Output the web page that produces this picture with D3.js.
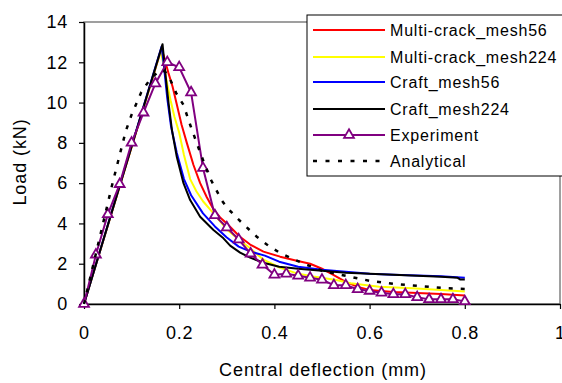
<!DOCTYPE html>
<html><head><meta charset="utf-8">
<script src="https://cdn.jsdelivr.net/npm/d3@7"></script>
<style>
html,body{margin:0;padding:0;background:#fff;}
text{font-family:Arial,"Liberation Sans",sans-serif;fill:#000;}
</style></head>
<body><svg id="c" width="562" height="383"></svg>
<script>
// ---- data ----
const xTicks = [0, 0.2, 0.4, 0.6, 0.8, 1];
const yTicks = [0, 2, 4, 6, 8, 10, 12, 14];
const seriesNames = ["Multi-crack_mesh56", "Multi-crack_mesh224", "Craft_mesh56", "Craft_mesh224", "Experiment", "Analytical"];

const multi56X = [0, 0.163, 0.17, 0.177, 0.186, 0.195, 0.205, 0.216, 0.23, 0.244, 0.258, 0.272, 0.286, 0.3, 0.327, 0.349, 0.377, 0.412, 0.447, 0.475, 0.5, 0.52, 0.55, 0.575, 0.6, 0.65, 0.7, 0.75, 0.8];
const multi56Y = [0, 12.7, 12.1, 11.5, 10.8, 9.9, 8.9, 8.0, 6.9, 6.0, 5.3, 4.7, 4.3, 4.0, 3.35, 2.95, 2.6, 2.35, 2.15, 2.0, 1.75, 1.5, 1.1, 0.85, 0.7, 0.6, 0.55, 0.5, 0.42];

const multi224X = [0, 0.161, 0.168, 0.175, 0.182, 0.19, 0.2, 0.21, 0.223, 0.236, 0.25, 0.272, 0.3, 0.325, 0.349, 0.377, 0.412, 0.447, 0.482, 0.53, 0.56, 0.62, 0.69, 0.75, 0.8];
const multi224Y = [0, 12.55, 11.8, 10.9, 10.1, 9.3, 8.5, 7.4, 6.2, 5.6, 5.1, 4.5, 3.7, 3.2, 2.77, 2.2, 1.8, 1.52, 1.36, 1.19, 1.03, 0.86, 0.78, 0.7, 0.62];

const craft56X = [0, 0.163, 0.168, 0.175, 0.183, 0.195, 0.21, 0.225, 0.25, 0.275, 0.3, 0.325, 0.35, 0.38, 0.41, 0.45, 0.5, 0.55, 0.6, 0.65, 0.7, 0.75, 0.8];
const craft56Y = [0, 12.78, 11.8, 10.2, 8.8, 7.5, 6.2, 5.4, 4.5, 3.85, 3.3, 2.85, 2.6, 2.4, 2.1, 1.85, 1.7, 1.6, 1.5, 1.45, 1.42, 1.38, 1.3];

const craft224X = [0, 0.165, 0.172, 0.178, 0.185, 0.195, 0.209, 0.223, 0.244, 0.272, 0.293, 0.307, 0.328, 0.349, 0.377, 0.41, 0.45, 0.5, 0.55, 0.6, 0.65, 0.7, 0.75, 0.785, 0.79, 0.8];
const craft224Y = [0, 12.9, 11.2, 9.9, 8.6, 7.3, 6.0, 5.16, 4.33, 3.67, 3.26, 2.9, 2.55, 2.3, 2.05, 1.85, 1.75, 1.65, 1.55, 1.5, 1.45, 1.4, 1.35, 1.3, 1.22, 1.22];

const expX = [0, 0.025, 0.05, 0.075, 0.1, 0.125, 0.15, 0.175, 0.2, 0.225, 0.25, 0.275, 0.3, 0.325, 0.35, 0.375, 0.4, 0.425, 0.45, 0.475, 0.5, 0.525, 0.55, 0.575, 0.6, 0.625, 0.65, 0.675, 0.7, 0.725, 0.75, 0.775, 0.8];
const expY = [0, 2.45, 4.45, 5.95, 8.0, 9.5, 10.95, 12.0, 11.75, 10.5, 6.75, 4.4, 3.8, 3.2, 2.5, 1.95, 1.45, 1.5, 1.4, 1.3, 1.2, 0.93, 0.93, 0.73, 0.65, 0.56, 0.48, 0.48, 0.33, 0.23, 0.23, 0.23, 0.13];

const analX = [0, 0.03, 0.06, 0.075, 0.088, 0.1, 0.12, 0.14, 0.16, 0.17, 0.18, 0.194, 0.209, 0.223, 0.237, 0.25, 0.265, 0.289, 0.3, 0.32, 0.342, 0.363, 0.387, 0.411, 0.436, 0.46, 0.5, 0.55, 0.6, 0.65, 0.7, 0.75, 0.8];
const analY = [0, 3.0, 6.0, 7.4, 8.6, 9.4, 10.5, 11.2, 11.6, 11.55, 11.2, 10.46, 9.88, 8.9, 7.98, 7.15, 6.24, 5.16, 4.8, 4.3, 3.8, 3.34, 2.9, 2.55, 2.27, 2.02, 1.65, 1.4, 1.15, 1.0, 0.9, 0.8, 0.75];

// ---- chart ----
const svg = d3.select("#c");
const x = d3.scaleLinear().domain([0, 1]).range([84, 560]);
const y = d3.scaleLinear().domain([0, 14]).range([304, 22]);

// plot area border
svg.append("rect").attr("x", 84).attr("y", 22).attr("width", 476).attr("height", 282)
  .attr("fill", "#fff").attr("stroke", "#808080").attr("stroke-width", 1.5);

const xAxis = d3.axisBottom(x).tickValues(xTicks).tickSize(5).tickSizeOuter(0).tickPadding(17)
  .tickFormat(d => String(d));
const yAxis = d3.axisLeft(y).tickValues(yTicks).tickSize(5).tickSizeOuter(0).tickPadding(11)
  .tickFormat(d => String(d));

const gx = svg.append("g").attr("transform", "translate(0,304)").call(xAxis);
const gy = svg.append("g").attr("transform", "translate(84,0)").call(yAxis);
[gx, gy].forEach(g => {
  g.selectAll("path.domain").attr("stroke", "#000").attr("stroke-width", 1.5);
  g.selectAll(".tick line").attr("stroke", "#000").attr("stroke-width", 1.2);
  g.selectAll(".tick text").attr("font-size", 18).attr("letter-spacing", "0.8px")
    .attr("font-family", "Arial, 'Liberation Sans', sans-serif").attr("fill", "#000");
});
gx.selectAll(".tick text").attr("dy", "0.71em");

// axis titles
svg.append("text").attr("x", 323).attr("y", 376).attr("text-anchor", "middle")
  .attr("font-size", 18).attr("letter-spacing", "0.9px").text("Central deflection (mm)");
svg.append("text").attr("transform", "translate(26,162) rotate(-90)").attr("text-anchor", "middle")
  .attr("font-size", 18).attr("letter-spacing", "0.9px").text("Load (kN)");

const line = d3.line().x(d => x(d[0])).y(d => y(d[1]));
const zip = (a, b) => a.map((v, i) => [v, b[i]]);

const plot = svg.append("g");
const series = [
  {x: multi56X, y: multi56Y, color: "#ff0000", w: 2},
  {x: multi224X, y: multi224Y, color: "#ffff00", w: 2},
  {x: craft56X, y: craft56Y, color: "#0000ff", w: 2},
  {x: craft224X, y: craft224Y, color: "#000000", w: 2}
];
series.forEach(s => {
  plot.append("path").datum(zip(s.x, s.y)).attr("d", line)
    .attr("fill", "none").attr("stroke", s.color).attr("stroke-width", s.w).attr("stroke-linejoin", "round");
});

// experiment
const expData = zip(expX, expY);
plot.append("path").datum(expData).attr("d", line)
  .attr("fill", "none").attr("stroke", "#800080").attr("stroke-width", 2);
const tri = d3.symbol().type(d3.symbolTriangle).size(42);
plot.selectAll("path.m").data(expData).enter().append("path").attr("class", "m")
  .attr("d", tri).attr("transform", d => `translate(${x(d[0])},${y(d[1])})`)
  .attr("fill", "#fff").attr("stroke", "#800080").attr("stroke-width", 1.8);

// analytical
plot.append("path").datum(zip(analX, analY)).attr("d", line)
  .attr("fill", "none").attr("stroke", "#000").attr("stroke-width", 2.5).attr("stroke-dasharray", "4,8");

// legend
const lg = svg.append("g");
lg.append("rect").attr("x", 307).attr("y", 15).attr("width", 262).attr("height", 161)
  .attr("fill", "#fff").attr("stroke", "#000").attr("stroke-width", 1);
const legendY = [30, 57, 82, 109, 135, 161];
const legendColor = ["#ff0000", "#ffff00", "#0000ff", "#000000", "#800080", "#000000"];
seriesNames.forEach((name, i) => {
  const ly = legendY[i];
  const l = lg.append("line").attr("x1", 313).attr("x2", 385).attr("y1", ly).attr("y2", ly)
    .attr("stroke", legendColor[i]).attr("stroke-width", i === 5 ? 2.5 : 2);
  if (i === 5) l.attr("stroke-dasharray", "4,8.5");
  if (i === 4) {
    lg.append("path").attr("d", tri).attr("transform", `translate(349,${ly})`)
      .attr("fill", "#fff").attr("stroke", "#800080").attr("stroke-width", 1.8);
  }
  lg.append("text").attr("x", 390).attr("y", ly + 6).attr("font-size", 16)
    .attr("letter-spacing", "0.8px").text(name);
});
</script>
</body></html>
